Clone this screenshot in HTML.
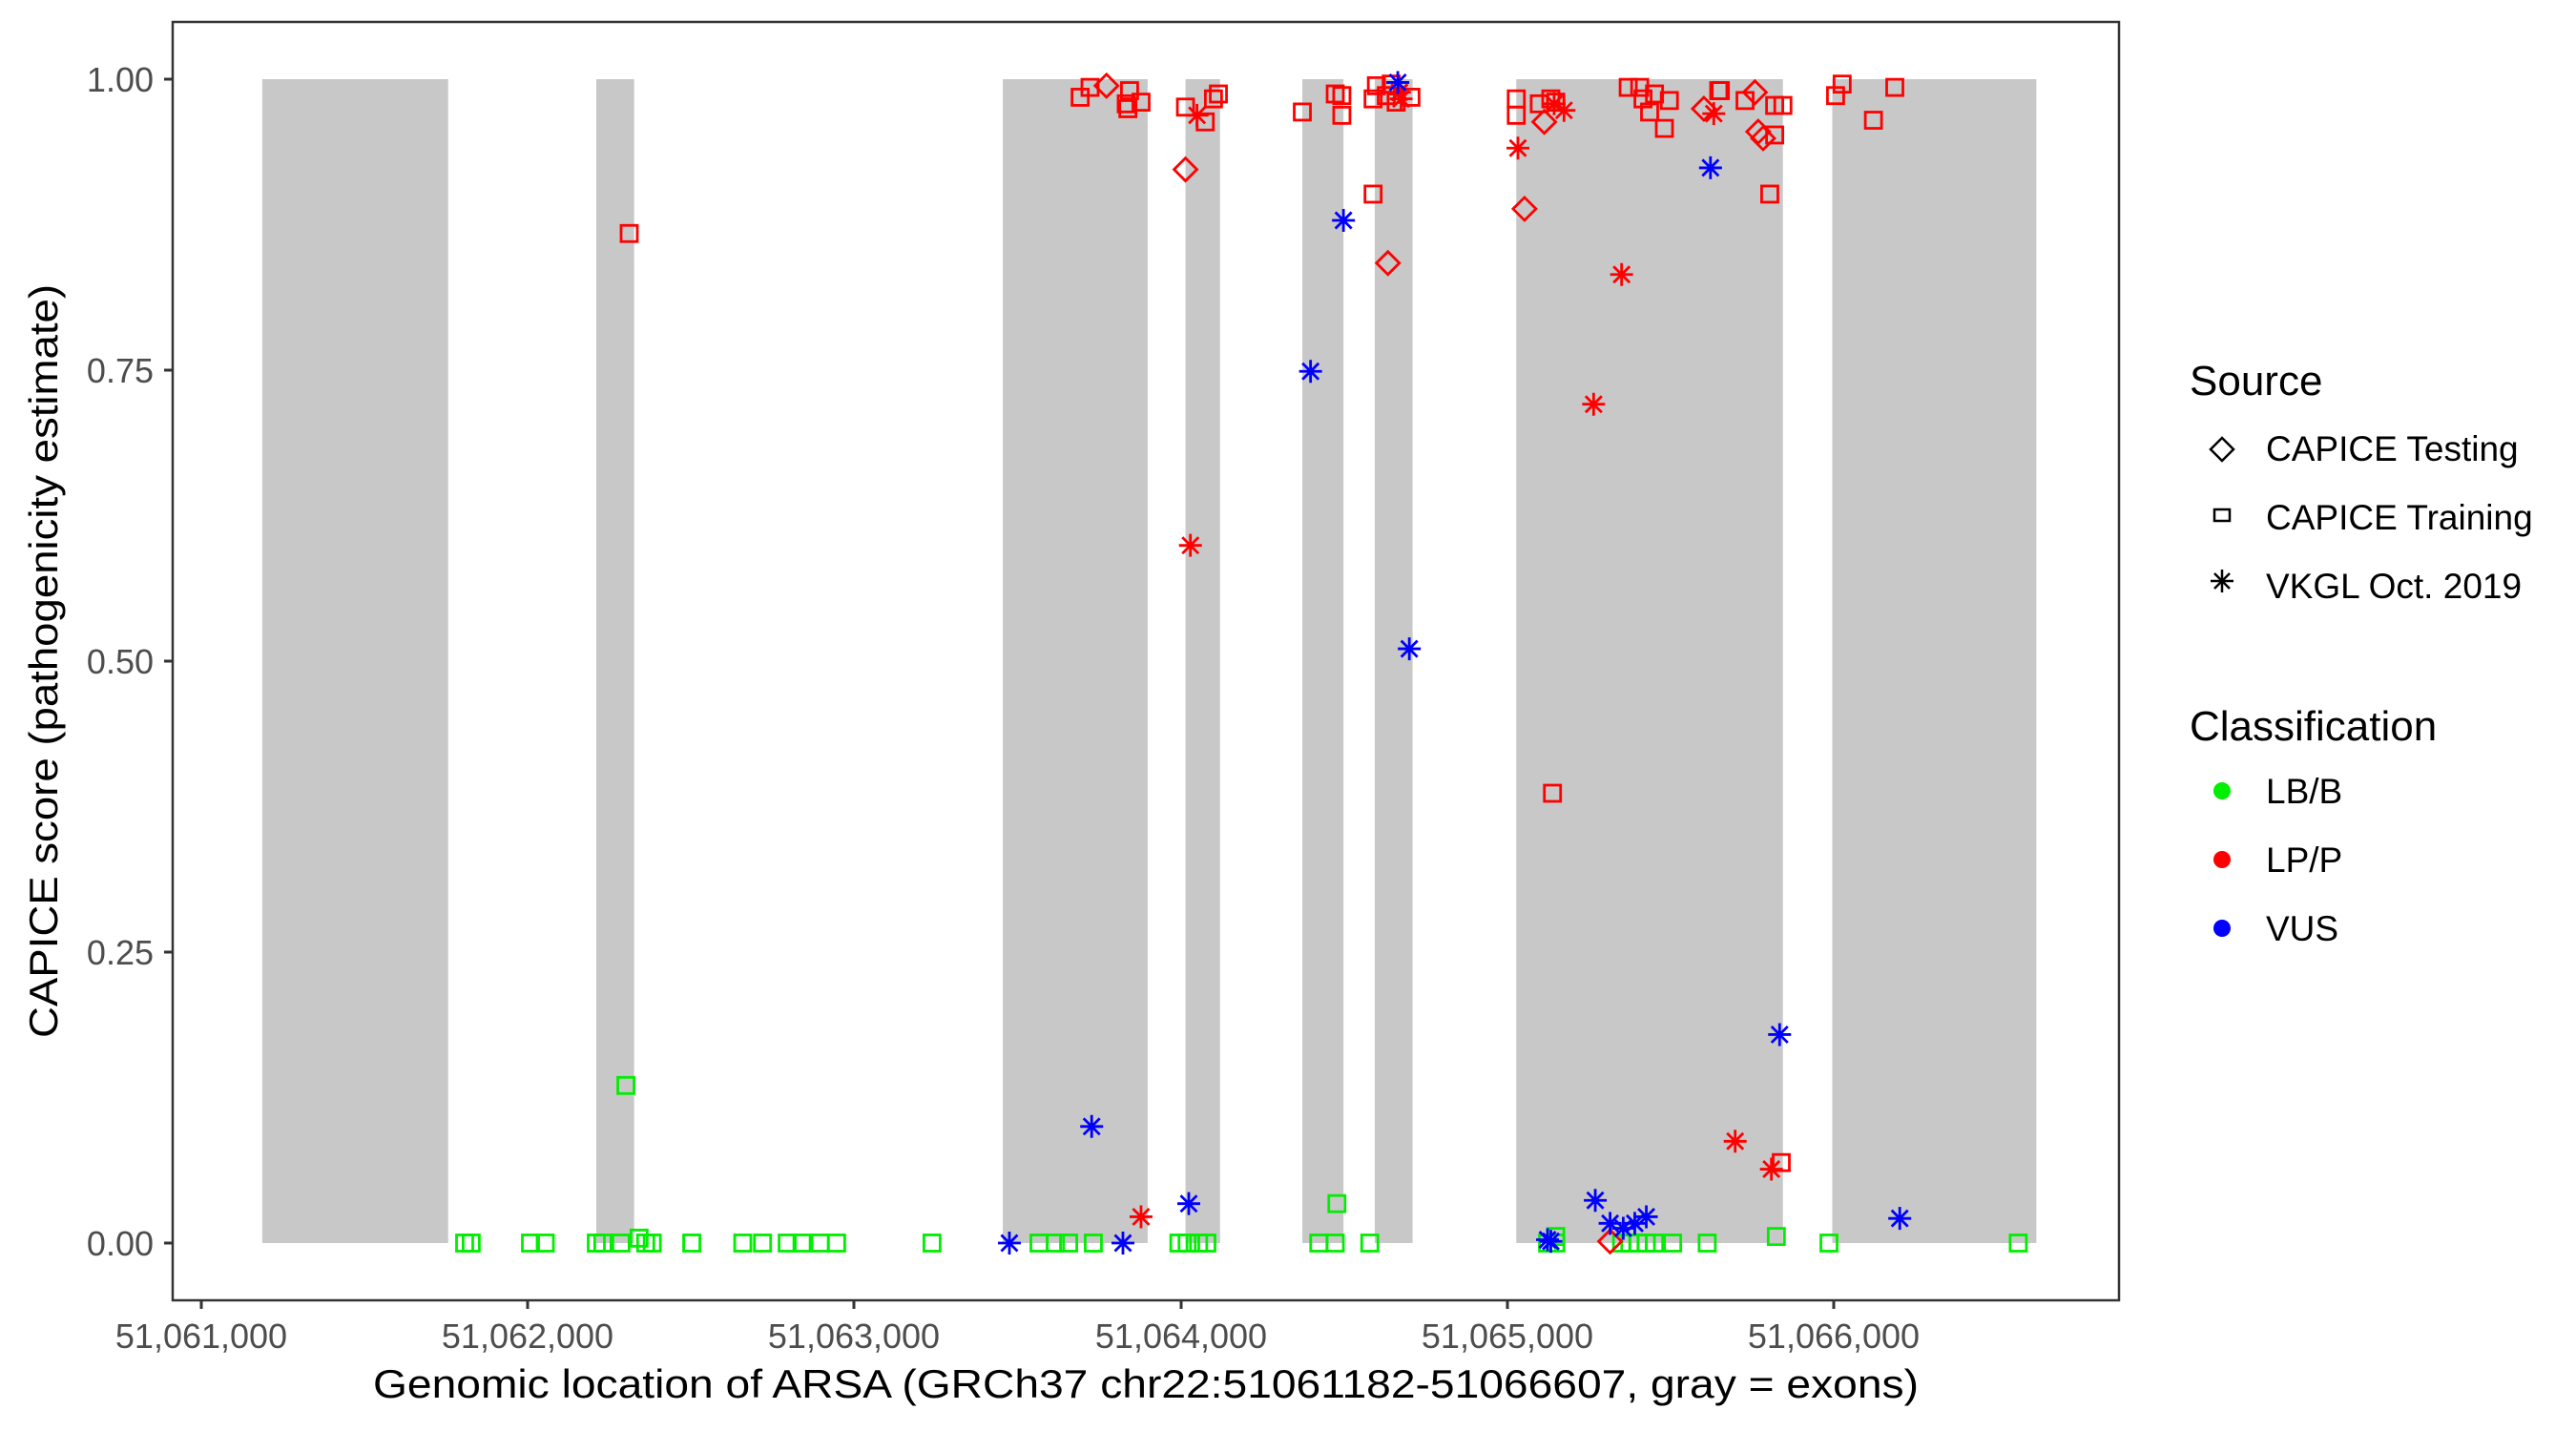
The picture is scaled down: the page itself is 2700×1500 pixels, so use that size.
<!DOCTYPE html>
<html><head><meta charset="utf-8"><style>
html,body{margin:0;padding:0;background:#fff;}
svg{display:block;font-family:"Liberation Sans",Arial,sans-serif;}
</style></head><body>
<svg id="s" width="2700" height="1500" viewBox="0 0 2700 1500" xmlns="http://www.w3.org/2000/svg">
<rect width="2700" height="1500" fill="#fff"/>
<g id="exons" fill="#c8c8c8"></g>
<g id="pts" fill="none" stroke-width="2.8"></g>
<rect x="181" y="23" width="2040" height="1340" fill="none" stroke="#333" stroke-width="2.5"/>
<g stroke="#333" stroke-width="3">
<line x1="172" y1="83" x2="181" y2="83"/><line x1="172" y1="388" x2="181" y2="388"/><line x1="172" y1="693" x2="181" y2="693"/><line x1="172" y1="998" x2="181" y2="998"/><line x1="172" y1="1303" x2="181" y2="1303"/>
<line x1="211" y1="1363" x2="211" y2="1372"/><line x1="553" y1="1363" x2="553" y2="1372"/><line x1="895" y1="1363" x2="895" y2="1372"/><line x1="1238" y1="1363" x2="1238" y2="1372"/><line x1="1580" y1="1363" x2="1580" y2="1372"/><line x1="1922" y1="1363" x2="1922" y2="1372"/>
</g>
<g fill="#4d4d4d" font-size="36" text-anchor="end">
<text x="161" y="96">1.00</text><text x="161" y="401">0.75</text><text x="161" y="706">0.50</text><text x="161" y="1011">0.25</text><text x="161" y="1316">0.00</text>
</g>
<g fill="#4d4d4d" font-size="36" text-anchor="middle">
<text x="211" y="1413">51,061,000</text><text x="553" y="1413">51,062,000</text><text x="895" y="1413">51,063,000</text><text x="1238" y="1413">51,064,000</text><text x="1580" y="1413">51,065,000</text><text x="1922" y="1413">51,066,000</text>
</g>
<text x="1201" y="1465" font-size="42" text-anchor="middle" fill="#000" textLength="1620" lengthAdjust="spacingAndGlyphs">Genomic location of ARSA (GRCh37 chr22:51061182-51066607, gray = exons)</text>
<text transform="translate(60,693) rotate(-90)" font-size="42" text-anchor="middle" fill="#000" textLength="790" lengthAdjust="spacingAndGlyphs">CAPICE score (pathogenicity estimate)</text>
<g fill="#000">
<text x="2295" y="414" font-size="44">Source</text>
<text x="2375" y="483" font-size="37">CAPICE Testing</text>
<text x="2375" y="555" font-size="37">CAPICE Training</text>
<text x="2375" y="627" font-size="37">VKGL Oct. 2019</text>
<text x="2295" y="776" font-size="44">Classification</text>
<text x="2375" y="842" font-size="37">LB/B</text>
<text x="2375" y="914" font-size="37">LP/P</text>
<text x="2375" y="986" font-size="37">VUS</text>
</g>
<g fill="none" stroke="#000" stroke-width="2.5">
<polygon points="2329,459 2341,471 2329,483 2317,471"/>
<rect x="2321" y="534" width="16" height="12"/>
<line x1="2329" y1="597" x2="2329" y2="621"/><line x1="2317" y1="609" x2="2341" y2="609"/><line x1="2321" y1="601" x2="2337" y2="617"/><line x1="2321" y1="617" x2="2337" y2="601"/>
</g>
<circle cx="2329" cy="829" r="9" fill="#00ee00"/>
<circle cx="2329" cy="901" r="9" fill="#ff0000"/>
<circle cx="2329" cy="973" r="9" fill="#0000ff"/>
</svg>
<script>
var NS="http://www.w3.org/2000/svg";
function X(d){return 211+(d-122)*1.725;}
function Y(d){return 83+(d-48)*1.7207;}
var ex=[[159,272],[362,385],[609,697],[720,741],[791,816],[835,858],[921,1083],[1113,1237]];
var eg=document.getElementById('exons');
ex.forEach(function(e){var r=document.createElementNS(NS,'rect');var x1=X(e[0]),x2=X(e[1]);
r.setAttribute('x',x1);r.setAttribute('width',x2-x1);r.setAttribute('y',83);r.setAttribute('height',1220);eg.appendChild(r);});
var C={g:'#00ee00',r:'#ff0000',b:'#0000ff'};
var P=[];
[282,286,322,331,362,366,377,392,396,420,451,463,478,487,498,508,566,631,641,649,664,716,721,728,733,801,811,832,940,945,985,990,995,1000,1005,1016,1037,1111,1226].forEach(function(x){P.push(['S','g',x,757]);});
P.push(['S','g',388,754],['S','g',1079,753],['S','g',380,661],['S','g',812,733],['S','g',945,753]);
var red=[['S',656,59],['S',662,53],['D',672,52],['S',686,55],['S',684,63],['S',685,66],['S',693,62],['S',720,65],['*',727,70],['S',732,74],['S',737,60],['S',740,57],['D',720,103],['*',723,332],['*',693,741],['S',382,142],
['S',791,68],['S',811,57],['S',815,70],['S',815,58],['S',834,118],['S',834,60],['S',836,52],['S',842,58],['S',845,51],['S',848,62],['*',851,60],['S',857,59],['D',843,160],['*',850,56],
['S',921,60],['S',921,70],['*',922,90],['D',926,127],['S',935,63],['D',938,74],['S',942,60],['S',945,62],['*',950,67],['*',944,63],['S',989,53],['S',996,53],['S',998,60],['S',1002,68],['S',1005,57],['S',1011,78],['S',1014,61],['D',1035,66],['*',1041,69],['S',1044,55],['S',1045,55],['S',1060,61],['D',1066,56],['D',1068,80],['D',1071,84],['S',1078,82],['S',1075,118],['S',1078,64],['S',1083,64],['S',1115,58],['S',1119,51],['S',1138,73],['S',1151,53],['*',968,246],['*',985,167],['S',943,483],['*',1054,695],['*',1076,712],['S',1082,708],['D',978,756]];
red.forEach(function(p){P.push([p[0],'r',p[1],p[2]]);});
[[849,50],[816,134],[796,226],[856,395],[663,686],[613,757],[682,757],[722,733],[940,755],[942,756],[969,731],[978,745],[986,748],[993,745],[1000,741],[1039,102],[1081,630],[1154,742]].forEach(function(p){P.push(['*','b',p[0],p[1]]);});
var g=document.getElementById('pts');
P.forEach(function(p){var x=X(p[2]),y=Y(p[3]),c=C[p[1]],el;
if(p[0]=='S'){el=document.createElementNS(NS,'rect');el.setAttribute('x',x-8.5);el.setAttribute('y',y-8.5);el.setAttribute('width',17);el.setAttribute('height',17);}
else if(p[0]=='D'){el=document.createElementNS(NS,'polygon');el.setAttribute('points',[x,y-12,x+12,y,x,y+12,x-12,y].join(' '));}
else{el=document.createElementNS(NS,'path');var r=12,d=8.5;el.setAttribute('d','M'+x+' '+(y-r)+'V'+(y+r)+'M'+(x-r)+' '+y+'H'+(x+r)+'M'+(x-d)+' '+(y-d)+'L'+(x+d)+' '+(y+d)+'M'+(x-d)+' '+(y+d)+'L'+(x+d)+' '+(y-d));}
el.setAttribute('stroke',c);g.appendChild(el);});
</script>
</body></html>
